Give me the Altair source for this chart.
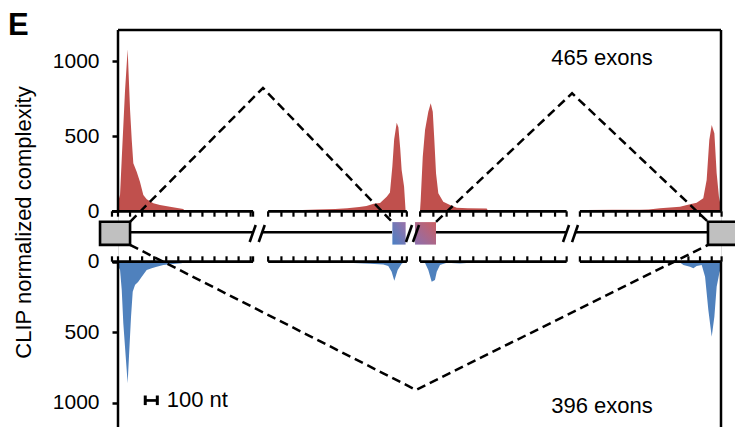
import altair as alt
import pandas as pd

# ---------------- data ----------------
# x: position in nt along the broken display axis (4 segments), values: CLIP normalized complexity
red_x1 = [0, 17, 31, 58, 80, 100, 114, 127, 155, 182, 210, 238, 293, 348, 431, 541, 556]
red_v1 = [60, 110, 350, 800, 1080, 675, 475, 320, 264, 197, 109, 80, 53, 42, 31, 15, 0]
red_x2 = [1500, 1530, 1650, 1800, 1900, 2000, 2060, 2120, 2173, 2228, 2255, 2275, 2290, 2311, 2325, 2340, 2352, 2372, 2385]
red_v2 = [0, 8, 12, 15, 20, 28, 35, 50, 55, 97, 125, 300, 480, 590, 560, 420, 275, 165, 0]
red_x3 = [2504, 2510, 2527, 2546, 2573, 2593, 2610, 2623, 2637, 2656, 2697, 2753, 2809, 2900, 3057, 3071]
red_v3 = [0, 75, 364, 542, 664, 720, 664, 475, 253, 120, 64, 42, 24, 20, 18, 0]
red_x4 = [3860, 3886, 4100, 4328, 4400, 4494, 4660, 4743, 4798, 4853, 4881, 4903, 4923, 4945, 4964, 4983, 4992, 5000]
red_v4 = [0, 8, 10, 10, 12, 20, 31, 47, 57, 87, 209, 475, 575, 520, 253, 97, 60, 40]

blue_x1 = [0, 17, 31, 44, 66, 80, 91, 108, 122, 141, 168, 197, 238, 279, 321, 376, 459, 528, 536]
blue_v1 = [30, 59, 200, 437, 697, 862, 674, 390, 213, 165, 142, 106, 59, 47, 35, 23, 16, 11, 0]
blue_x2 = [1940, 1951, 2090, 2200, 2241, 2269, 2291, 2319, 2352, 2380]
blue_v2 = [0, 10, 15, 20, 30, 71, 135, 59, 15, 0]
blue_x3 = [2532, 2546, 2573, 2601, 2628, 2643, 2670, 2726, 2836, 2919, 2941]
blue_v3 = [0, 10, 59, 142, 130, 71, 23, 8, 12, 8, 0]
blue_x4 = [4640, 4660, 4688, 4743, 4771, 4798, 4840, 4868, 4895, 4923, 4945, 4964, 4986, 5000]
blue_v4 = [0, 5, 23, 35, 47, 30, 23, 106, 343, 532, 390, 177, 82, 40]

# gene-structure layout (nt on the display axis)
ruler_start = [-50, 1245, 2505, 3830]
ruler_end = [1120, 2395, 3720, 5005]
ruler_ticks = [
    [-50, 0, 100, 200, 300, 400, 500, 600, 700, 800, 900, 1000, 1100, 1120],
    [1245, 1355, 1455, 1555, 1655, 1755, 1855, 1955, 2055, 2155, 2255, 2355, 2395],
    [2505, 2615, 2725, 2836, 2946, 3057, 3173, 3284, 3394, 3508, 3624, 3720],
    [3830, 3920, 4024, 4127, 4224, 4323, 4426, 4528, 4627, 4730, 4826, 4923, 5005],
]
intron_start = [100, 1192, 2637, 3790]
intron_end = [1117, 2272, 3715, 4892]
grey_exon_start = [-149, 4892]
grey_exon_end = [100, 5150]
mid_exon_start = [2275, 2463]
mid_exon_end = [2385, 2637]
slash_x1 = [1092, 1167, 2388, 2446, 3690, 3765]
slash_x2 = [1142, 1217, 2438, 2496, 3740, 3814]

dash_x = [100, 1202, 2272, 2637, 3765, 4892, 100, 2471, 4892]
dash_y = [-70, 822, -70, -70, 787, -70, -224, -1191, -224]
dash_id = ["a", "a", "a", "b", "b", "b", "c", "c", "c"]

# layout constants (y units; bottom panel values are mapped below the gene model)
Y_TOP, Y_BOTTOM = 1208.7, -1438
BOTTOM_ZERO, BOTTOM_K = -336, 0.94
RED, BLUE = "#C0504D", "#4F81BD"
FONT = "Liberation Sans"

def bottom(v):
    return BOTTOM_ZERO - BOTTOM_K * v

# ---------------- tables ----------------
red = pd.concat([
    pd.DataFrame({"x": xs, "v": vs, "seg": i})
    for i, (xs, vs) in enumerate([(red_x1, red_v1), (red_x2, red_v2), (red_x3, red_v3), (red_x4, red_v4)])
])
red["y"] = red["v"].astype(float)
red["base"] = 0.0

blue = pd.concat([
    pd.DataFrame({"x": xs, "v": vs, "seg": i})
    for i, (xs, vs) in enumerate([(blue_x1, blue_v1), (blue_x2, blue_v2), (blue_x3, blue_v3), (blue_x4, blue_v4)])
])
blue["y"] = bottom(blue["v"])
blue["base"] = float(BOTTOM_ZERO)

rulers = pd.DataFrame({
    "x": ruler_start * 2, "x2": ruler_end * 2,
    "y": [0.0] * 4 + [float(BOTTOM_ZERO)] * 4,
})
tick_rows = []
for ticks in ruler_ticks:
    for t in ticks:
        tick_rows.append({"x": t, "y": 0.0, "y2": -36.0})
        tick_rows.append({"x": t, "y": float(BOTTOM_ZERO), "y2": BOTTOM_ZERO + 36.0})
tick_df = pd.DataFrame(tick_rows)

intron = pd.DataFrame({"x": intron_start, "x2": intron_end, "y": [-140.0] * 4})
grey = pd.DataFrame({"x": grey_exon_start, "x2": grey_exon_end, "y": [-70.0] * 2, "y2": [-224.0] * 2})
slashes = pd.DataFrame({"x": slash_x1, "x2": slash_x2, "y": [-205.0] * 6, "y2": [-91.0] * 6})
dashes = pd.DataFrame({"x": dash_x, "y": dash_y, "id": dash_id, "o": list(range(len(dash_x)))})

frame_h = pd.DataFrame({"x": [0], "x2": [5000], "y": [Y_TOP]})
frame_v = pd.DataFrame({
    "x": [0, 0, 5000, 5000],
    "y": [0.0, float(BOTTOM_ZERO), 0.0, float(BOTTOM_ZERO)],
    "y2": [Y_TOP, Y_BOTTOM, Y_TOP, Y_BOTTOM],
})

labels = pd.DataFrame({
    "x": [4013, 4013], "y": [1020, -1301], "t": ["465 exons", "396 exons"],
})
scale_text = pd.DataFrame({"x": [404], "y": [-1261], "t": ["100 nt"]})
scale_bar = pd.DataFrame({"x": [226], "x2": [326], "y": [-1261]})
scale_caps = pd.DataFrame({"x": [226, 326], "y": [-1228, -1228], "y2": [-1292, -1292]})

# ---------------- chart ----------------
xs = alt.Scale(domain=[0, 5000], nice=False, zero=False)
ys = alt.Scale(domain=[Y_BOTTOM, Y_TOP], nice=False, zero=False)

yaxis = alt.Axis(
    values=[1000, 500, 0, BOTTOM_ZERO, bottom(500), bottom(1000)],
    labelExpr="datum.value > -100 ? format(datum.value, 'd') : (datum.value > -500 ? '0' : (datum.value > -1000 ? '500' : '1000'))",
    domain=False, grid=False, ticks=True, tickSize=6, tickWidth=2.5, tickColor="black",
    labelFont=FONT, labelFontSize=21, labelColor="black", labelPadding=13,
    title="CLIP normalized complexity", titleFont=FONT, titleFontSize=22,
    titleFontWeight="normal", titleColor="black", titleAngle=-90,
    titleX=-95, titleY=192, titleAlign="center", titleBaseline="middle",
)


def X(f="x"):
    return alt.X(f"{f}:Q", scale=xs, axis=None)


def Y(f="y"):
    return alt.Y(f"{f}:Q", scale=ys, axis=yaxis)


red_area = alt.Chart(red).mark_area(color=RED, opacity=1).encode(
    x=X(), y=Y(), y2="base:Q", detail="seg:N"
)
blue_area = alt.Chart(blue).mark_area(color=BLUE, opacity=1).encode(
    x=X(), y=Y(), y2="base:Q", detail="seg:N"
)
ruler_lines = alt.Chart(rulers).mark_rule(color="black", strokeWidth=2.8).encode(
    x=X(), x2="x2:Q", y=Y()
)
ruler_ticks_m = alt.Chart(tick_df).mark_rule(color="black", strokeWidth=2.2).encode(
    x=X(), y=Y(), y2="y2:Q"
)
intron_m = alt.Chart(intron).mark_rule(color="black", strokeWidth=2.5).encode(
    x=X(), x2="x2:Q", y=Y()
)
grey_m = alt.Chart(grey).mark_rect(fill="#C0C0C0", stroke="black", strokeWidth=2.6).encode(
    x=X(), x2="x2:Q", y=Y(), y2="y2:Q"
)
grad1 = alt.Gradient(
    gradient="linear", x1=0, y1=1, x2=1, y2=0,
    stops=[alt.GradientStop(color="#4A80C4", offset=0), alt.GradientStop(color="#9A72A8", offset=1)],
)
grad2 = alt.Gradient(
    gradient="linear", x1=0, y1=1, x2=1, y2=0,
    stops=[alt.GradientStop(color="#8C6FAE", offset=0), alt.GradientStop(color="#CC5F62", offset=1)],
)
exon1 = alt.Chart(pd.DataFrame({"x": [mid_exon_start[0]], "x2": [mid_exon_end[0]], "y": [-72.0], "y2": [-222.0]})).mark_rect(
    fill=grad1).encode(x=X(), x2="x2:Q", y=Y(), y2="y2:Q")
exon2 = alt.Chart(pd.DataFrame({"x": [mid_exon_start[1]], "x2": [mid_exon_end[1]], "y": [-72.0], "y2": [-222.0]})).mark_rect(
    fill=grad2).encode(x=X(), x2="x2:Q", y=Y(), y2="y2:Q")
slash_m = alt.Chart(slashes).mark_rule(color="black", strokeWidth=2.6).encode(
    x=X(), x2="x2:Q", y=Y(), y2="y2:Q"
)
dash_m = alt.Chart(dashes).mark_line(color="black", strokeWidth=2.5, strokeDash=[9, 5]).encode(
    x=X(), y=Y(), detail="id:N", order="o:Q"
)
frame_h_m = alt.Chart(frame_h).mark_rule(color="black", strokeWidth=2.5).encode(
    x=X(), x2="x2:Q", y=Y()
)
frame_v_m = alt.Chart(frame_v).mark_rule(color="black", strokeWidth=2.5).encode(
    x=X(), y=Y(), y2="y2:Q"
)
label_m = alt.Chart(labels).mark_text(font=FONT, fontSize=22, color="black", align="center", baseline="middle").encode(
    x=X(), y=Y(), text="t:N"
)
scale_text_m = alt.Chart(scale_text).mark_text(font=FONT, fontSize=22, color="black", align="left", baseline="middle").encode(
    x=X(), y=Y(), text="t:N"
)
scale_bar_m = alt.Chart(scale_bar).mark_rule(color="black", strokeWidth=2.7).encode(
    x=X(), x2="x2:Q", y=Y()
)
scale_caps_m = alt.Chart(scale_caps).mark_rule(color="black", strokeWidth=3).encode(
    x=X(), y=Y(), y2="y2:Q"
)

chart = alt.layer(
    red_area, blue_area, ruler_lines, ruler_ticks_m, intron_m, grey_m, exon1, exon2,
    slash_m, dash_m, frame_h_m, frame_v_m, label_m, scale_text_m, scale_bar_m, scale_caps_m,
).properties(
    width=603, height=397,
    autosize=alt.AutoSizeParams(type="none"),
    padding={"left": 118, "top": 30, "right": 14, "bottom": 0},
    title=alt.TitleParams(
        text="E", anchor="start", frame="group", font=FONT, fontSize=31, fontWeight="bold",
        color="black", baseline="alphabetic", offset=0, dx=-110, dy=37,
    ),
).configure_view(strokeWidth=0).configure(background="white")

chart.save("out.html", embed_options={"renderer": "svg", "actions": False})
